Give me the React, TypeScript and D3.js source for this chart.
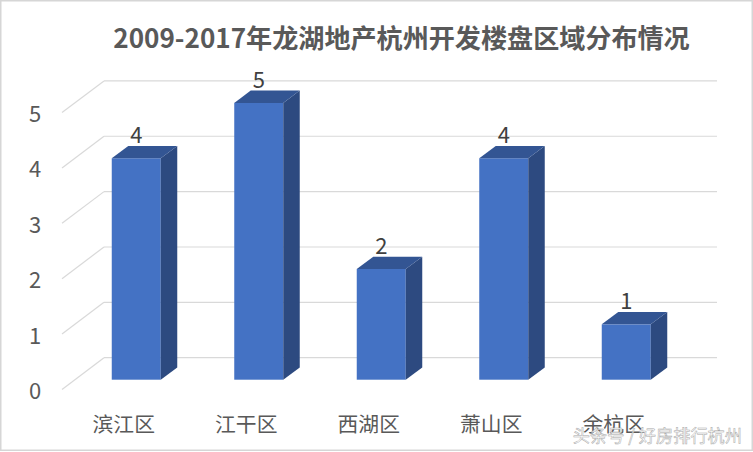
import React from "react";
import * as d3 from "d3";

const categories = ["滨江区", "江干区", "西湖区", "萧山区", "余杭区"];
const values = [4, 5, 2, 4, 1];
const yTicks = [0, 1, 2, 3, 4, 5];
const titleText = "2009-2017年龙湖地产杭州开发楼盘区域分布情况";
const watermark = "头条号 / 好房排行杭州";

const W = 753;
const H = 452;
const FONT = "'Noto Sans CJK SC','Noto Sans',sans-serif";
const depthX = 16.5;
const depthY = 12.3;
const floorX = 42;
const floorY = 31.7;

export default function App() {
  const y = d3.scaleLinear().domain([0, 5]).range([379.7, 102.9]);
  const x = d3.scaleBand<string>().domain(categories).range([75, 687.5]).paddingInner(0.6).paddingOuter(0.3);
  const bw = x.bandwidth();
  const backY = (v: number) => y(v) - 22;
  const backLeft = 104;
  const backRight = 717;

  return (
    <svg
      width={W}
      height={H}
      viewBox={`0 0 ${W} ${H}`}
      style={{ position: "fixed", left: 0, top: 0, background: "#fff" }}
      fontFamily={FONT}
    >
      <rect x={0.75} y={0.75} width={W - 1.5} height={H - 2.5} fill="#fff" stroke="#d6d6d6" strokeWidth={1.5} />
      <text x={401.5} y={48} textAnchor="middle" fontSize={26.1} fontWeight={700} fill="#595959">
        {titleText}
      </text>

      {yTicks.map((t) => (
        <g key={t} stroke="#d9d9d9" strokeWidth={1.2} fill="none">
          <line x1={backLeft} x2={backRight} y1={backY(t)} y2={backY(t)} />
          <line x1={backLeft} x2={backLeft - floorX} y1={backY(t)} y2={backY(t) + floorY} />
        </g>
      ))}

      {yTicks.map((t) => (
        <text key={t} x={35} y={backY(t) + floorY + 9.5} textAnchor="middle" fontSize={22} fill="#595959">
          {t}
        </text>
      ))}

      {categories.map((c, i) => {
        const x0 = x(c) as number;
        const x1 = x0 + bw;
        const yt = y(values[i]);
        const yb = y(0);
        const side = d3.path();
        side.moveTo(x1, yt);
        side.lineTo(x1 + depthX, yt - depthY);
        side.lineTo(x1 + depthX, yb - depthY);
        side.lineTo(x1, yb);
        side.closePath();
        const top = d3.path();
        top.moveTo(x0, yt);
        top.lineTo(x0 + depthX, yt - depthY);
        top.lineTo(x1 + depthX, yt - depthY);
        top.lineTo(x1, yt);
        top.closePath();
        return (
          <g key={c}>
            <rect x={x0} y={yt} width={bw} height={yb - yt} fill="#4472c4" />
            <path d={side.toString()} fill="#2d4a80" />
            <path d={top.toString()} fill="#335593" />
            <text x={x0 + 24.5} y={yt - 15} textAnchor="middle" fontSize={22} fill="#404040">
              {values[i]}
            </text>
            <text x={x0 + 12} y={432} textAnchor="middle" fontSize={20.8} fill="#595959">
              {c}
            </text>
          </g>
        );
      })}

      <text
        x={742}
        y={442}
        textAnchor="end"
        fontSize={17.2}
        fill="#ffffff"
        stroke="#a0a0a0"
        strokeWidth={0.5}
        opacity={0.9}
      >
        {watermark}
      </text>
    </svg>
  );
}
